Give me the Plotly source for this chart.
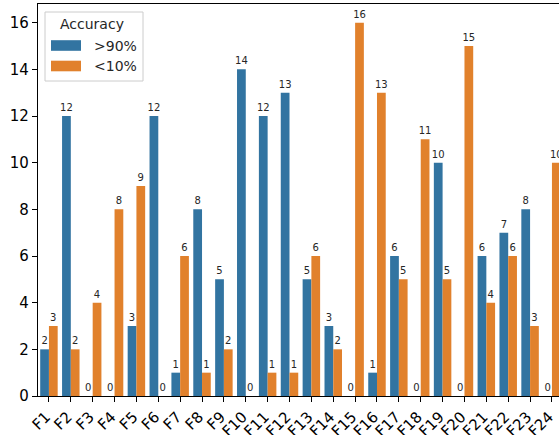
import plotly.graph_objects as go

categories = [f"F{i}" for i in range(1, 25)]
high_acc = [2, 12, 0, 0, 3, 12, 1, 8, 5, 14, 12, 13, 5, 3, 0, 1, 6, 0, 10, 0, 6, 7, 8, 0]
low_acc = [3, 2, 4, 8, 9, 0, 6, 1, 2, 0, 1, 1, 6, 2, 16, 13, 5, 11, 5, 15, 4, 6, 3, 10]
series_names = [">90%", "<10%"]
colors = ["#3274a1", "#e1812c"]
legend_title = "Accuracy"
y_ticks = [0, 2, 4, 6, 8, 10, 12, 14, 16]

W, H = 559, 435
L, T, B = 38, 4, 39
pw = W - L
ph = H - T - B
step = 21.87

FONT = "DejaVu Sans"

fig = go.Figure()
for name, vals, col in zip(series_names, [high_acc, low_acc], colors):
    fig.add_trace(go.Bar(
        x=categories, y=vals, name=name, marker_color=col, marker_line_width=0,
        text=[str(v) for v in vals], textposition="outside", cliponaxis=False,
        constraintext="none",
        textfont=dict(family=FONT, size=10, color="#262626"),
        showlegend=False,
    ))

def px(x):
    return (x - L) / pw

def py(y):
    return (H - B - y) / ph

shapes = [
    dict(type="rect", xref="paper", yref="paper", x0=px(45), x1=px(143), y0=py(81), y1=py(12),
         line=dict(color="#cccccc", width=1), fillcolor="rgba(255,255,255,0.8)", layer="above"),
]
annotations = [
    dict(text=legend_title, xref="paper", yref="paper", x=px(92), y=py(24), showarrow=False,
         xanchor="center", yanchor="middle", font=dict(family=FONT, size=14, color="#262626")),
]
for i, (name, col) in enumerate(zip(series_names, colors)):
    yc = 45.5 + i * 20.5
    shapes.append(dict(type="rect", xref="paper", yref="paper", x0=px(51), x1=px(81),
                       y0=py(yc + 5.3), y1=py(yc - 5.3), line=dict(width=0), fillcolor=col, layer="above"))
    annotations.append(dict(text=name, xref="paper", yref="paper", x=px(92), y=py(yc), showarrow=False,
                            xanchor="left", yanchor="middle", font=dict(family=FONT, size=14, color="#262626")))

fig.update_layout(
    width=W, height=H,
    margin=dict(l=L, r=0, t=T, b=B, pad=0),
    paper_bgcolor="white", plot_bgcolor="white",
    barmode="group", bargap=0.2, bargroupgap=0,
    font=dict(family=FONT, size=14, color="#262626"),
    shapes=shapes, annotations=annotations,
    xaxis=dict(
        range=[-0.5, -0.5 + pw / step], showline=True, linecolor="black", linewidth=1.2,
        mirror=True, ticks="outside", ticklen=5, tickwidth=1.2, tickcolor="black",
        tickangle=-45, tickfont=dict(family=FONT, size=15, color="black"), showgrid=False,
        automargin=False, ticklabelstandoff=0, ticklabelshift=-3,
    ),
    yaxis=dict(
        range=[0, 16.8], tickvals=y_ticks, showline=True, linecolor="black", linewidth=1.2,
        ticks="outside", ticklen=5, tickwidth=1.2, tickcolor="black",
        tickfont=dict(family=FONT, size=15, color="black"), showgrid=False, zeroline=False,
        automargin=False,
    ),
)

fig.write_html("out.html", config={"displayModeBar": False},
               post_script="document.body.style.margin='0';document.body.style.overflow='hidden';")
